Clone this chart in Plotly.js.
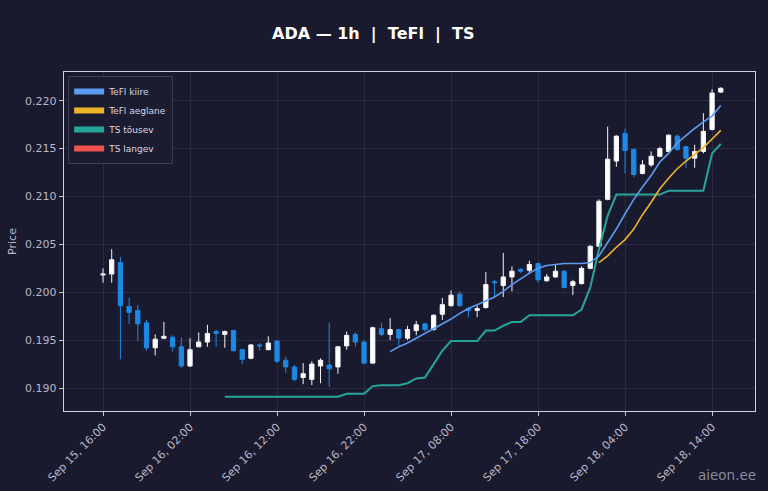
<!DOCTYPE html>
<html>
<head>
<meta charset="utf-8">
<script src="https://cdn.plot.ly/plotly-3.0.1.min.js"></script>
<style>
  html, body { margin: 0; padding: 0; background: #1a1a2e; }
  #chart { width: 768px; height: 491px; }
</style>
</head>
<body>
<div id="chart"></div>
<script>
// ======== DATA ========
// hourly candles, first one Sep 15 16:00
var startTime = '2025-09-15T16:00:00';

var open = [0.2018,0.2019,0.2031,0.1985,0.1981,0.1968,0.1942,0.1952,0.1953,0.1943,
  0.1923,0.1943,0.1948,0.1959,0.1956,0.1960,0.1940,0.1931,0.1945,0.1940,
  0.1949,0.1929,0.1922,0.1911,0.1909,0.1923,0.1924,0.1922,0.1944,0.1956,
  0.1948,0.1926,0.1962,0.1956,0.1961,0.1952,0.1960,0.1967,0.1961,0.1977,
  0.1986,0.1998,0.1983,0.1981,0.1984,0.2011,0.2007,0.2016,0.2024,0.2023,
  0.2030,0.2012,0.2016,0.2022,0.2007,0.2009,0.2025,0.2048,0.2097,0.2137,
  0.2166,0.2149,0.2124,0.2133,0.2142,0.2147,0.2163,0.2152,0.2140,0.2147,
  0.2170,0.2209];

var high = [0.2025,0.2045,0.2037,0.1994,0.1987,0.1971,0.1956,0.1969,0.1955,0.1953,
  0.1952,0.1958,0.1966,0.1961,0.1960,0.1961,0.1941,0.1946,0.1947,0.1954,
  0.1950,0.1933,0.1924,0.1926,0.1928,0.1931,0.1968,0.1944,0.1959,0.1958,
  0.1950,0.1964,0.1968,0.1973,0.1962,0.1965,0.1970,0.1968,0.1977,0.1994,
  0.2002,0.2001,0.1985,0.1986,0.2021,0.2013,0.2041,0.2027,0.2025,0.2033,
  0.2031,0.2019,0.2029,0.2023,0.2013,0.2027,0.2049,0.2097,0.2173,0.2164,
  0.2171,0.2150,0.2138,0.2147,0.2152,0.2165,0.2165,0.2153,0.2154,0.2187,
  0.2212,0.2214];

var low = [0.2010,0.2010,0.1930,0.1967,0.1949,0.1939,0.1934,0.1951,0.1938,0.1921,
  0.1922,0.1943,0.1943,0.1943,0.1942,0.1938,0.1925,0.1930,0.1939,0.1940,
  0.1926,0.1916,0.1907,0.1904,0.1903,0.1905,0.1901,0.1915,0.1940,0.1943,
  0.1925,0.1925,0.1954,0.1950,0.1944,0.1950,0.1955,0.1959,0.1960,0.1971,
  0.1985,0.1985,0.1974,0.1974,0.1983,0.1995,0.1995,0.2001,0.2020,0.2019,
  0.2010,0.2011,0.2015,0.2004,0.1997,0.2008,0.2024,0.2047,0.2096,0.2131,
  0.2124,0.2120,0.2123,0.2131,0.2141,0.2146,0.2148,0.2130,0.2130,0.2145,
  0.2169,0.2208];

var close = [0.2019,0.2034,0.1986,0.1979,0.1967,0.1942,0.1951,0.1954,0.1943,0.1923,
  0.1940,0.1948,0.1957,0.1957,0.1959,0.1939,0.1930,0.1945,0.1944,0.1947,
  0.1928,0.1922,0.1909,0.1915,0.1925,0.1929,0.1920,0.1943,0.1955,0.1948,
  0.1926,0.1963,0.1956,0.1961,0.1952,0.1961,0.1966,0.1961,0.1976,0.1987,
  0.1997,0.1986,0.1981,0.1983,0.2008,0.2010,0.2016,0.2022,0.2022,0.2029,
  0.2013,0.2016,0.2022,0.2005,0.2011,0.2025,0.2048,0.2095,0.2139,0.2163,
  0.2148,0.2123,0.2133,0.2142,0.2150,0.2164,0.2149,0.2140,0.2147,0.2168,
  0.2208,0.2213];

// TeFl kiire starts at candle 33
var teflFastStart = 33;
var teflFast = [0.1938,0.1943,0.1947,0.1952,0.1957,0.1962,0.1967,0.1972,0.1978,0.1983,
  0.1987,0.1991,0.1995,0.2001,0.2008,0.2014,0.2020,0.2025,0.2028,0.2029,
  0.2030,0.2030,0.2030,0.2031,0.2038,0.2052,0.2066,0.2082,0.2097,0.2110,
  0.2122,0.2136,0.2145,0.2156,0.2164,0.2171,0.2178,0.2184,0.2195];

// TeFl aeglane starts at candle 57
var teflSlowStart = 57;
var teflSlow = [0.2031,0.2038,0.2047,0.2055,0.2066,0.2081,0.2094,0.2108,0.2119,0.2129,
  0.2137,0.2144,0.2151,0.2160,0.2169];

// TS tõusev starts at candle 14
var tsUpStart = 14;
var tsUp = [0.1891,0.1891,0.1891,0.1891,0.1891,0.1891,0.1891,0.1891,0.1891,0.1891,
  0.1891,0.1891,0.1891,0.1891,0.1894,0.1894,0.1894,0.1902,0.1903,0.1903,
  0.1903,0.1905,0.1910,0.1911,0.1925,0.1939,0.1949,0.1949,0.1949,0.1949,
  0.1960,0.1960,0.1965,0.1969,0.1969,0.1976,0.1976,0.1976,0.1976,0.1976,
  0.1976,0.1982,0.2005,0.2045,0.2080,0.2102,0.2102,0.2102,0.2102,0.2102,
  0.2102,0.2106,0.2106,0.2106,0.2106,0.2106,0.2145,0.2155];

var legendNames = ['TeFl kiire', 'TeFl aeglane', 'TS tõusev', 'TS langev'];
var legendColors = ['#5b9cf0', '#f0b429', '#26a69a', '#ef5350'];

// ======== TIME AXIS ========
var times = [];
var t0 = new Date(startTime + 'Z').getTime();
for (var i = 0; i < open.length; i++) {
  times.push(new Date(t0 + i * 3600000).toISOString().slice(0, 16).replace('T', ' '));
}

// ======== TRACES ========
var candles = {
  type: 'candlestick',
  x: times, open: open, high: high, low: low, close: close,
  increasing: { line: { color: '#f4f4f8', width: 1 }, fillcolor: '#ffffff' },
  decreasing: { line: { color: '#1e88e5', width: 1 }, fillcolor: '#1e88e5' },
  whiskerwidth: 0,
  showlegend: false,
  hoverinfo: 'skip'
};

var fastLine = {
  type: 'scatter', mode: 'lines',
  x: times.slice(teflFastStart), y: teflFast,
  line: { color: legendColors[0], width: 1.6 },
  showlegend: false
};
var slowLine = {
  type: 'scatter', mode: 'lines',
  x: times.slice(teflSlowStart), y: teflSlow,
  line: { color: legendColors[1], width: 1.6 },
  showlegend: false
};
var upLine = {
  type: 'scatter', mode: 'lines',
  x: times.slice(tsUpStart), y: tsUp,
  line: { color: legendColors[2], width: 2 },
  showlegend: false
};

// legend patches
var patches = legendNames.map(function(n, k) {
  return {
    type: 'scatter', mode: 'none', fill: 'toself',
    x: [null], y: [null],
    name: n, fillcolor: legendColors[k],
    showlegend: true
  };
});

var data = [candles, upLine, slowLine, fastLine].concat(patches);

var font = 'DejaVu Sans, Arial, sans-serif';

var layout = {
  width: 768, height: 491,
  paper_bgcolor: '#1a1a2e',
  plot_bgcolor: '#1a1a2e',
  font: { family: font, color: '#b8b8c8', size: 11 },
  margin: { l: 64, r: 13, t: 72, b: 80 },
  title: {
    text: '<b>ADA — 1h  |  TeFl  |  TS</b>',
    font: { family: font, size: 16, color: '#ffffff' },
    x: 0.486, xanchor: 'center', y: 0.931, yanchor: 'middle'
  },
  xaxis: {
    type: 'date',
    range: ['2025-09-15 11:31', '2025-09-18 18:56'],
    rangeslider: { visible: false },
    tickmode: 'linear',
    tick0: '2025-09-15 16:00',
    dtick: 36000000,
    tickformat: '%b %-d, %H:%M',
    tickangle: -45,
    ticks: 'outside', ticklen: 4, tickcolor: '#c8c8d4',
    tickfont: { size: 11, color: '#b8b8c8' },
    showgrid: true, gridcolor: '#2b2b42', gridwidth: 1,
    showline: true, linecolor: '#d0d0dc', linewidth: 1.2, mirror: true,
    zeroline: false
  },
  yaxis: {
    range: [0.1876, 0.2230],
    tickmode: 'linear', tick0: 0.19, dtick: 0.005,
    tickformat: '.3f',
    ticks: 'outside', ticklen: 4, tickcolor: '#c8c8d4',
    tickfont: { size: 11, color: '#b8b8c8' },
    showgrid: true, gridcolor: '#2b2b42', gridwidth: 1,
    showline: true, linecolor: '#d0d0dc', linewidth: 1.2, mirror: true,
    zeroline: false,
    title: { text: 'Price', font: { size: 11, color: '#b8b8c8' }, standoff: 6 }
  },
  legend: {
    x: 0.006, y: 0.988, xanchor: 'left', yanchor: 'top',
    bgcolor: '#1c1c30', bordercolor: '#3c3c54', borderwidth: 1,
    font: { size: 9, color: '#d8d8e4' },
    itemwidth: 30, tracegroupgap: 0
  },
  annotations: [{
    text: 'aieon.ee', xref: 'paper', yref: 'paper',
    x: 1.004, y: -0.19, xanchor: 'right', yanchor: 'middle',
    showarrow: false,
    font: { size: 13.5, color: 'rgba(190,190,205,0.7)' }
  }],
  showlegend: true
};

Plotly.newPlot('chart', data, layout, { displayModeBar: false, staticPlot: true });
</script>
</body>
</html>
